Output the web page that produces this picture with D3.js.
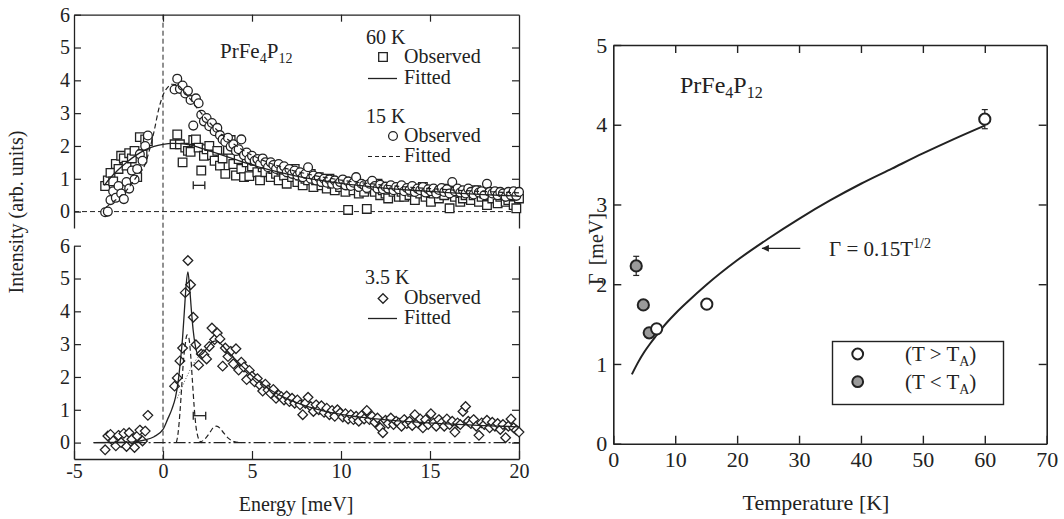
<!DOCTYPE html>
<html>
<head>
<meta charset="utf-8">
<title>PrFe4P12</title>
<script src="https://d3js.org/d3.v7.min.js"></script>
<style>
  body { margin: 0; background: #fff; }
  svg { display: block; }
  svg text { font-family: "Liberation Serif", "Times New Roman", Times, Tinos, "DejaVu Serif", "Noto Serif", serif; }
</style>
</head>
<body>
<svg width="1064" height="519"></svg>
<script>
// energy channels in meV (the elastic region around 0 is cut out)
var energy = [-3.4,-3.25,-3.1,-2.95,-2.8,-2.65,-2.5,-2.35,-2.2,-2.05,-1.9,-1.75,-1.6,-1.45,-1.3,-1.15,-1,-0.85,
  0.65,0.8,0.95,1.1,1.25,1.4,1.55,1.7,1.85,2,
  2.15,2.3,2.45,2.6,2.75,2.9,3.05,3.2,3.35,3.5,
  3.65,3.8,3.95,4.1,4.25,4.4,4.55,4.7,4.85,5,
  5.15,5.3,5.45,5.6,5.75,5.9,6.05,6.2,6.35,6.5,
  6.65,6.8,6.95,7.1,7.25,7.4,7.55,7.7,7.85,8,
  8.15,8.3,8.45,8.6,8.75,8.9,9.05,9.2,9.35,9.5,
  9.65,9.8,9.95,10.1,10.25,10.4,10.55,10.7,10.85,11,
  11.15,11.3,11.45,11.6,11.75,11.9,12.05,12.2,12.35,12.5,
  12.65,12.8,12.95,13.1,13.25,13.4,13.55,13.7,13.85,14,
  14.15,14.3,14.45,14.6,14.75,14.9,15.05,15.2,15.35,15.5,
  15.65,15.8,15.95,16.1,16.25,16.4,16.55,16.7,16.85,17,
  17.15,17.3,17.45,17.6,17.75,17.9,18.05,18.2,18.35,18.5,
  18.65,18.8,18.95,19.1,19.25,19.4,19.55,19.7,19.85,20];

// observed intensities (arb. units)
var obs60K = [null,0.78,0.95,1.18,0.92,1.45,1.3,1.7,1.62,1.4,1.78,1.62,1.85,1.05,2.27,1.75,2.2,2.15,
  2.05,2.35,2.05,1.5,1.95,1.85,1.82,2.18,2.2,1.95,
  1.25,1.7,1.9,2.0,1.72,1.55,1.85,1.4,1.62,1.15,
  1.88,2.18,1.45,1.1,1.6,1.3,1.05,1.5,1.08,1.38,
  1.55,1.2,0.95,1.35,1.2,1.45,1.05,1.3,1.15,0.95,
  1.25,1.1,0.85,1.2,1.05,1.3,0.9,1.1,0.8,1.0,
  0.95,1.15,0.75,0.95,1.05,0.8,0.9,0.7,1.0,0.85,
  0.65,0.9,0.75,0.85,0.6,0.05,0.8,0.65,0.9,0.55,
  0.75,0.6,0.08,0.7,0.8,0.6,0.85,0.5,0.65,0.55,
  0.4,0.7,0.6,0.75,0.45,0.6,0.45,0.7,0.5,0.6,
  0.35,0.65,0.55,0.75,0.45,0.6,0.3,0.55,0.65,0.4,
  0.55,0.5,0.7,0.1,0.55,0.45,0.6,0.3,0.4,0.5,
  0.6,0.35,0.5,0.65,0.3,0.45,0.55,0.2,0.5,0.4,
  0.6,0.25,0.45,0.5,0.3,0.35,0.55,0.2,0.1,0.4];

var obs15K = [null,-0.02,0.0,0.35,0.62,0.42,0.78,0.55,0.38,0.9,0.7,1.25,0.98,1.3,1.75,1.55,2.0,2.32,
  3.72,4.05,3.74,3.84,3.6,3.68,3.4,2.62,3.45,3.3,
  2.95,2.75,2.85,2.6,2.7,2.45,2.55,2.33,2.2,2.12,
  2.25,1.98,2.05,1.85,1.9,2.2,1.72,1.8,1.6,1.7,
  1.55,1.6,1.45,1.62,1.5,1.35,1.5,1.42,1.3,1.45,
  1.28,1.38,1.2,1.3,1.15,1.25,1.1,1.2,1.05,1.15,
  1.35,1.0,1.1,0.95,1.05,0.9,1.0,0.88,0.98,0.85,
  0.95,0.82,0.9,0.98,0.8,0.92,0.78,0.88,1.05,0.75,
  0.85,0.8,0.72,0.85,0.94,0.78,0.7,0.82,0.68,0.76,
  0.7,0.8,0.65,0.75,0.68,0.8,0.62,0.72,0.66,0.78,
  0.6,0.7,0.65,0.75,0.58,0.68,0.62,0.7,0.55,0.66,
  0.72,0.6,0.68,0.55,0.9,0.62,0.7,0.58,0.65,0.55,
  0.7,0.6,0.52,0.65,0.58,0.62,0.5,0.85,0.6,0.55,
  0.62,0.5,0.6,0.55,0.45,0.6,0.5,0.62,0.48,0.6];

var obs3K = [null,-0.22,0.2,0.25,0.05,-0.1,0.22,0.0,0.28,-0.12,0.3,0.1,-0.15,0.2,0.38,0.05,0.35,0.83,
  1.72,1.97,2.49,2.88,4.57,5.55,4.81,3.82,2.98,2.36,
  2.7,2.68,2.55,2.93,3.49,3.14,3.34,3.16,2.33,2.88,
  2.62,2.78,2.4,2.86,2.21,2.45,2.3,1.92,2.2,2.02,
  1.85,1.95,1.75,1.57,1.78,1.6,1.5,1.62,1.35,1.45,
  1.4,1.3,1.42,1.25,1.35,1.2,1.3,1.15,0.85,1.2,
  1.38,1.1,0.95,1.15,1.0,1.12,0.92,1.05,0.85,0.98,
  0.8,1.0,0.9,0.78,0.88,0.72,0.85,0.7,0.8,0.65,
  0.82,0.72,0.98,0.7,0.8,0.62,0.75,0.45,0.3,0.68,
  0.58,0.75,0.55,0.65,0.6,0.5,0.7,0.58,0.65,0.52,
  0.85,0.6,0.72,0.45,0.7,0.55,0.88,0.6,0.5,0.7,
  0.6,0.5,0.72,0.55,0.65,0.32,0.6,0.55,0.95,1.1,
  0.65,0.58,0.7,0.5,0.22,0.6,0.55,0.68,0.45,0.62,
  0.5,0.58,0.4,0.55,0.15,0.5,0.72,0.45,0.38,0.32];

// fitted curves
var fit60E = [-3.3,-3,-2.5,-2,-1.5,-1,-0.5,0,0.5,1,1.5,2,3,4,5,6,7,8,9,10,12,14,16,18,20];
var fit60I = [0.8,1.0,1.28,1.52,1.72,1.88,1.99,2.05,2.08,2.07,2.03,1.96,1.78,1.6,1.42,1.27,1.14,1.03,0.94,0.86,0.74,0.65,0.58,0.52,0.47];
var fit15E = [-3.2,-3,-2.5,-2,-1.5,-1,-0.75,-0.5,-0.25,0,0.25,0.5,0.8,1.1,1.5,2,2.5,3,4,5,6,7,8,10,12,15,20];
var fit15I = [0.13,0.22,0.42,0.68,1.05,1.45,1.9,2.45,3.1,3.55,3.78,3.88,3.86,3.72,3.45,3.1,2.78,2.5,2.05,1.72,1.48,1.3,1.16,0.96,0.83,0.7,0.57];
var fit3E = [-3.9,-2,-1.5,-1,-0.5,0,0.25,0.5,0.7,0.85,1,1.1,1.2,1.3,1.4,1.5,1.6,1.7,1.8,1.9,2,2.2,2.5,2.8,3,3.3,3.6,4,4.5,5,5.5,6,7,8,9,10,12,14,16,18,20];
var fit3I = [0,0.01,0.03,0.08,0.18,0.4,0.7,1.02,1.38,1.85,2.6,3.2,4.0,4.8,5.2,4.7,4.0,3.4,3.0,2.75,2.65,2.7,2.9,3.08,3.1,2.98,2.8,2.57,2.3,2.04,1.82,1.62,1.33,1.12,0.97,0.86,0.72,0.63,0.57,0.52,0.48];
var peak1E = [0.75,0.85,0.95,1.05,1.15,1.25,1.35,1.45,1.55,1.65,1.75,1.85,1.95,2.05,2.2];
var peak1I = [0,0.3,0.9,1.7,2.5,3.0,3.28,3.2,2.7,1.9,1.1,0.5,0.2,0.06,0];
var peak2E = [2.0,2.3,2.6,2.8,3.0,3.2,3.4,3.7,4.0,4.4];
var peak2I = [0,0.08,0.28,0.44,0.5,0.44,0.3,0.12,0.03,0];
var broadE = [0.8,1.0,1.2,1.4,1.6,1.8,2.0,2.2,2.4];
var broadI = [1.35,1.6,1.85,2.08,2.3,2.48,2.62,2.72,2.82];
var baseE = [-3.9, 20];
var baseI = [0, 0];

// instrumental resolution bars [E from, E to, intensity]
var resTop = [1.7, 2.35, 0.8];
var resBot = [1.7, 2.4, 0.82];

// linewidth vs temperature
var tempAbove = [7.0, 15.1, 60.0];
var gammaAbove = [1.44, 1.75, 4.07];
var errAbove = [0, 0, 0.12];
var tempBelow = [3.7, 4.85, 5.8];
var gammaBelow = [2.23, 1.74, 1.39];
var errBelow = [0.12, 0, 0];
var fitT = [3,4,5,6,7,8,10,12,15,20,25,30,35,40,45,50,55,60];
var fitG = [0.87,1.02,1.15,1.26,1.36,1.46,1.63,1.78,1.99,2.3,2.57,2.82,3.05,3.26,3.45,3.64,3.82,3.99];

var ink = "#222";
var serif = "'Liberation Serif', 'Times New Roman', Times, Tinos, 'DejaVu Serif', 'Noto Serif', serif";
var svg = d3.select("svg");

// ---------- left panels ----------
var x = d3.scaleLinear().domain([-5, 20]).range([74, 519]);
var yTop = d3.scaleLinear().domain([-0.5, 6]).range([228, 14.7]);
var yBot = d3.scaleLinear().domain([-0.5, 6]).range([459, 245.7]);

function styleAxis(g, size) {
  g.attr("font-family", serif).attr("font-size", size);
  g.select(".domain").attr("stroke", ink).attr("stroke-width", 1.3);
  g.selectAll(".tick line").attr("stroke", ink).attr("stroke-width", 1.2);
  g.selectAll(".tick text").attr("fill", ink);
}
function plain(d) { return String(d); }

// top panel frame
svg.append("g").attr("transform", "translate(" + x(-5) + ",0)")
  .call(d3.axisLeft(yTop).tickValues([0,1,2,3,4,5,6]).tickSize(-7).tickSizeOuter(0).tickPadding(4).tickFormat(plain))
  .call(styleAxis, 20);
svg.append("g").attr("transform", "translate(0," + yTop(6) + ")")
  .call(d3.axisTop(x).tickValues([0,5,10,15]).tickSize(-7).tickSizeOuter(0).tickFormat(""))
  .call(styleAxis, 20);
svg.append("g").attr("transform", "translate(" + x(20) + ",0)")
  .call(d3.axisRight(yTop).tickValues([0,1,2,3,4,5]).tickSize(-7).tickSizeOuter(0).tickFormat(""))
  .call(styleAxis, 20);

// bottom panel frame
svg.append("g").attr("transform", "translate(" + x(-5) + ",0)")
  .call(d3.axisLeft(yBot).tickValues([0,1,2,3,4,5,6]).tickSize(-7).tickSizeOuter(0).tickPadding(4).tickFormat(plain))
  .call(styleAxis, 20);
svg.append("g").attr("transform", "translate(0," + yBot(-0.5) + ")")
  .call(d3.axisBottom(x).tickValues([-5,0,5,10,15,20]).tickSize(-8).tickSizeOuter(0).tickPadding(5).tickFormat(plain))
  .call(styleAxis, 20);
svg.append("g").attr("transform", "translate(" + x(20) + ",0)")
  .call(d3.axisRight(yBot).tickValues([0,1,2,3,4,5]).tickSize(-7).tickSizeOuter(0).tickFormat(""))
  .call(styleAxis, 20);

// zero reference lines
svg.append("line").attr("x1", x(-5)).attr("x2", x(20)).attr("y1", yTop(0)).attr("y2", yTop(0))
  .attr("stroke", ink).attr("stroke-width", 1).attr("stroke-dasharray", "5,3");
svg.append("line").attr("x1", x(0)).attr("x2", x(0)).attr("y1", yTop(6)).attr("y2", yBot(-0.5))
  .attr("stroke", ink).attr("stroke-width", 1).attr("stroke-dasharray", "5,3");

function pts(E, I) {
  return E.map(function(e, i) { return [e, I[i]]; }).filter(function(p) { return p[1] != null; });
}

var squarePath = "M-4.3,-4.3H4.3V4.3H-4.3Z";
var diamondPath = "M0,-4.8L4.8,0L0,4.8L-4.8,0Z";
var mk = 1.3;

// top panel markers
var topG = svg.append("g");
topG.selectAll("path.sq").data(pts(energy, obs60K)).enter().append("path")
  .attr("class", "sq").attr("d", squarePath)
  .attr("transform", function(d) { return "translate(" + x(d[0]) + "," + yTop(d[1]) + ")"; })
  .attr("fill", "#fff").attr("stroke", ink).attr("stroke-width", mk);
topG.selectAll("circle").data(pts(energy, obs15K)).enter().append("circle")
  .attr("cx", function(d) { return x(d[0]); })
  .attr("cy", function(d) { return yTop(d[1]); })
  .attr("r", 4.4)
  .attr("fill", "#fff").attr("stroke", ink).attr("stroke-width", mk);

var lineTop = d3.line().x(function(d) { return x(d[0]); }).y(function(d) { return yTop(d[1]); }).curve(d3.curveMonotoneX);
var lineBot = d3.line().x(function(d) { return x(d[0]); }).y(function(d) { return yBot(d[1]); }).curve(d3.curveMonotoneX);

svg.append("path").attr("d", lineTop(pts(fit60E, fit60I)))
  .attr("fill", "none").attr("stroke", ink).attr("stroke-width", 1.3);
svg.append("path").attr("d", lineTop(pts(fit15E, fit15I)))
  .attr("fill", "none").attr("stroke", ink).attr("stroke-width", 1.2).attr("stroke-dasharray", "5,3");

// bottom panel markers
svg.append("g").selectAll("path").data(pts(energy, obs3K)).enter().append("path")
  .attr("d", diamondPath)
  .attr("transform", function(d) { return "translate(" + x(d[0]) + "," + yBot(d[1]) + ")"; })
  .attr("fill", "#fff").attr("stroke", ink).attr("stroke-width", mk);

svg.append("path").attr("d", lineBot(pts(baseE, baseI)))
  .attr("fill", "none").attr("stroke", ink).attr("stroke-width", 1.1).attr("stroke-dasharray", "12,3,2,3");
svg.append("path").attr("d", lineBot(pts(peak1E, peak1I)))
  .attr("fill", "none").attr("stroke", ink).attr("stroke-width", 1.2).attr("stroke-dasharray", "5,3");
svg.append("path").attr("d", lineBot(pts(peak2E, peak2I)))
  .attr("fill", "none").attr("stroke", ink).attr("stroke-width", 1.2).attr("stroke-dasharray", "5,3");
svg.append("path").attr("d", lineBot(pts(broadE, broadI)))
  .attr("fill", "none").attr("stroke", "#555").attr("stroke-width", 1).attr("stroke-dasharray", "1,2");
svg.append("path").attr("d", lineBot(pts(fit3E, fit3I)))
  .attr("fill", "none").attr("stroke", ink).attr("stroke-width", 1.3);

// resolution bars
function resBar(r, y) {
  var g = svg.append("g").attr("stroke", ink).attr("stroke-width", 1.3);
  g.append("line").attr("x1", x(r[0])).attr("x2", x(r[1])).attr("y1", y(r[2])).attr("y2", y(r[2]));
  [r[0], r[1]].forEach(function(e) {
    g.append("line").attr("x1", x(e)).attr("x2", x(e)).attr("y1", y(r[2]) - 4).attr("y2", y(r[2]) + 4);
  });
}
resBar(resTop, yTop);
resBar(resBot, yBot);

// compound name
function compound(xp, yp, size, sub) {
  var t = svg.append("text").attr("x", xp).attr("y", yp).attr("font-size", size).attr("fill", ink);
  t.append("tspan").text("PrFe");
  t.append("tspan").attr("font-size", sub).attr("dy", size * 0.22).text("4");
  t.append("tspan").attr("dy", -size * 0.22).text("P");
  t.append("tspan").attr("font-size", sub).attr("dy", size * 0.22).text("12");
}
compound(220, 58, 21, 14);

// legends (left)
function txt(xp, yp, s, size) {
  return svg.append("text").attr("x", xp).attr("y", yp).attr("font-size", size || 20).attr("fill", ink).text(s);
}
txt(366, 44, "60 K");
svg.append("path").attr("d", squarePath).attr("transform", "translate(383,57)")
  .attr("fill", "#fff").attr("stroke", ink).attr("stroke-width", mk);
txt(404, 63, "Observed");
svg.append("line").attr("x1", 368).attr("x2", 397).attr("y1", 78.5).attr("y2", 78.5).attr("stroke", ink).attr("stroke-width", 1.3);
txt(404, 84, "Fitted");
txt(366, 123, "15 K");
svg.append("circle").attr("cx", 393).attr("cy", 136).attr("r", 4.4)
  .attr("fill", "#fff").attr("stroke", ink).attr("stroke-width", mk);
txt(404, 142, "Observed");
svg.append("line").attr("x1", 368).attr("x2", 401).attr("y1", 156.5).attr("y2", 156.5)
  .attr("stroke", ink).attr("stroke-width", 1.2).attr("stroke-dasharray", "4,3");
txt(404, 162, "Fitted");

txt(365, 284, "3.5 K");
svg.append("path").attr("d", diamondPath).attr("transform", "translate(383,298.5)")
  .attr("fill", "#fff").attr("stroke", ink).attr("stroke-width", mk);
txt(404, 304, "Observed");
svg.append("line").attr("x1", 368).attr("x2", 397).attr("y1", 318.5).attr("y2", 318.5).attr("stroke", ink).attr("stroke-width", 1.3);
txt(404, 324, "Fitted");

// axis titles (left)
svg.append("text").attr("transform", "translate(23,212) rotate(-90)")
  .attr("text-anchor", "middle").attr("font-size", 20).attr("fill", ink).text("Intensity (arb. units)");
svg.append("text").attr("x", 296).attr("y", 511).attr("text-anchor", "middle")
  .attr("font-size", 20).attr("fill", ink).text("Energy [meV]");

// ---------- right panel ----------
var xR = d3.scaleLinear().domain([0, 70]).range([613.3, 1046.7]);
var yR = d3.scaleLinear().domain([0, 5]).range([443.7, 45]);

function styleR(g) {
  styleAxis(g, 22);
  g.select(".domain").attr("stroke-width", 1.6);
  g.selectAll(".tick line").attr("stroke-width", 1.4);
}
svg.append("g").attr("transform", "translate(" + xR(0) + ",0)")
  .call(d3.axisLeft(yR).tickValues([0,1,2,3,4,5]).tickSize(-8).tickSizeOuter(0).tickPadding(6).tickFormat(plain))
  .call(styleR);
svg.append("g").attr("transform", "translate(0," + yR(0) + ")")
  .call(d3.axisBottom(xR).tickValues([0,10,20,30,40,50,60,70]).tickSize(-8).tickSizeOuter(0).tickPadding(8).tickFormat(plain))
  .call(styleR);
svg.append("g").attr("transform", "translate(0," + yR(5) + ")")
  .call(d3.axisTop(xR).tickValues([10,20,30,40,50,60]).tickSize(-8).tickSizeOuter(0).tickFormat(""))
  .call(styleR);
svg.append("g").attr("transform", "translate(" + xR(70) + ",0)")
  .call(d3.axisRight(yR).tickValues([1,2,3,4]).tickSize(-8).tickSizeOuter(0).tickFormat(""))
  .call(styleR);

var lineR = d3.line().x(function(d) { return xR(d[0]); }).y(function(d) { return yR(d[1]); }).curve(d3.curveMonotoneX);
svg.append("path").attr("d", lineR(pts(fitT, fitG)))
  .attr("fill", "none").attr("stroke", ink).attr("stroke-width", 2);

function errBars(T, G, E) {
  var g = svg.append("g").attr("stroke", ink).attr("stroke-width", 1.2);
  T.forEach(function(t, i) {
    if (!E[i]) return;
    g.append("line").attr("x1", xR(t)).attr("x2", xR(t)).attr("y1", yR(G[i] - E[i])).attr("y2", yR(G[i] + E[i]));
    [G[i] - E[i], G[i] + E[i]].forEach(function(v) {
      g.append("line").attr("x1", xR(t) - 3).attr("x2", xR(t) + 3).attr("y1", yR(v)).attr("y2", yR(v));
    });
  });
}
errBars(tempBelow, gammaBelow, errBelow);
errBars(tempAbove, gammaAbove, errAbove);

svg.append("g").selectAll("circle").data(pts(tempBelow, gammaBelow)).enter().append("circle")
  .attr("cx", function(d) { return xR(d[0]); }).attr("cy", function(d) { return yR(d[1]); })
  .attr("r", 5.6).attr("fill", "#9a9a9a").attr("stroke", ink).attr("stroke-width", 2);
svg.append("g").selectAll("circle").data(pts(tempAbove, gammaAbove)).enter().append("circle")
  .attr("cx", function(d) { return xR(d[0]); }).attr("cy", function(d) { return yR(d[1]); })
  .attr("r", 5.6).attr("fill", "#fff").attr("stroke", ink).attr("stroke-width", 2);

compound(680, 93, 24, 16);

// arrow annotation
svg.append("defs").append("marker").attr("id", "head").attr("viewBox", "0 0 10 10")
  .attr("refX", 10).attr("refY", 5).attr("markerWidth", 10).attr("markerHeight", 7)
  .attr("markerUnits", "userSpaceOnUse").attr("orient", "auto")
  .append("path").attr("d", "M0,0L10,5L0,10Z").attr("fill", ink);
svg.append("line").attr("x1", xR(30.2)).attr("x2", xR(24.0)).attr("y1", yR(2.45)).attr("y2", yR(2.45))
  .attr("stroke", ink).attr("stroke-width", 1.2).attr("marker-end", "url(#head)");
var eq = svg.append("text").attr("x", 829).attr("y", 256).attr("font-size", 21).attr("fill", ink);
eq.append("tspan").text("Γ = 0.15T");
eq.append("tspan").attr("font-size", 14).attr("dy", -8).text("1/2");

// legend box
svg.append("rect").attr("x", 832.5).attr("y", 341.5).attr("width", 171).attr("height", 63)
  .attr("fill", "#fff").attr("stroke", ink).attr("stroke-width", 1.4);
svg.append("circle").attr("cx", 857.7).attr("cy", 354).attr("r", 5.4).attr("fill", "#fff").attr("stroke", ink).attr("stroke-width", 2);
svg.append("circle").attr("cx", 857.7).attr("cy", 381.7).attr("r", 5.4).attr("fill", "#9a9a9a").attr("stroke", ink).attr("stroke-width", 2);
function tLabel(yp, rel) {
  var t = svg.append("text").attr("x", 905).attr("y", yp).attr("font-size", 21).attr("fill", ink);
  t.append("tspan").text("(T " + rel + " T");
  t.append("tspan").attr("font-size", 14).attr("dy", 5).text("A");
  t.append("tspan").attr("dy", -5).text(")");
}
tLabel(361, ">");
tLabel(389, "<");

// axis titles (right)
var gl = svg.append("text").attr("transform", "translate(603,249) rotate(-90)")
  .attr("text-anchor", "middle").attr("font-size", 20).attr("fill", ink);
gl.append("tspan").text("Γ");
gl.append("tspan").attr("dx", 8).text("[meV]");
svg.append("text").attr("x", 816).attr("y", 510).attr("text-anchor", "middle")
  .attr("font-size", 22).attr("fill", ink).text("Temperature [K]");
</script>
</body>
</html>
